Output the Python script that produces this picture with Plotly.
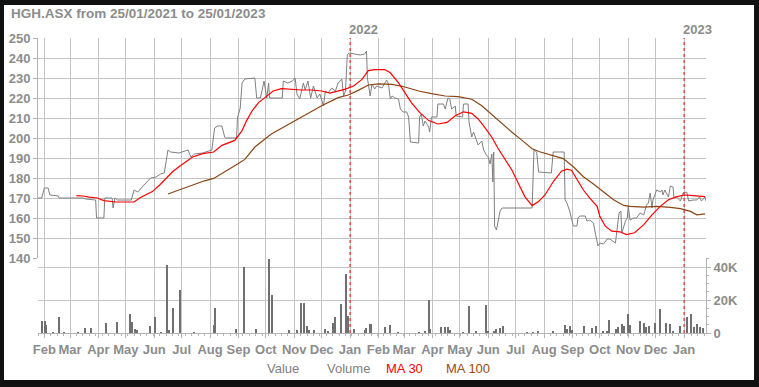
import plotly.graph_objects as go
import pandas as pd

# ---------------- data ----------------
price_dates = [
    "2021-01-25","2021-01-29","2021-02-01","2021-02-05","2021-02-07","2021-02-16","2021-02-17","2021-03-15",
    "2021-03-18","2021-03-29","2021-03-30","2021-04-07","2021-04-08","2021-04-16","2021-04-17","2021-04-19",
    "2021-04-22","2021-05-07","2021-05-10","2021-05-14","2021-05-18","2021-05-21","2021-05-25","2021-05-28",
    "2021-06-03","2021-06-08","2021-06-12","2021-06-14","2021-06-16","2021-06-19","2021-06-28","2021-07-08",
    "2021-07-11","2021-07-15","2021-07-24","2021-08-03","2021-08-06","2021-08-09","2021-08-14","2021-08-17",
    "2021-08-18","2021-08-30","2021-08-31","2021-09-03","2021-09-05","2021-09-08","2021-09-15","2021-09-19",
    "2021-09-21","2021-09-25","2021-09-27","2021-09-29","2021-10-02","2021-10-04","2021-10-05","2021-10-19",
    "2021-10-20","2021-10-25","2021-10-30","2021-11-02","2021-11-04","2021-11-07","2021-11-11","2021-11-13",
    "2021-11-16","2021-11-19","2021-11-22","2021-11-26","2021-11-29","2021-12-03","2021-12-05","2021-12-08",
    "2021-12-12","2021-12-16","2021-12-19","2021-12-23","2021-12-25","2021-12-27","2021-12-29","2021-12-31",
    "2022-01-12","2022-01-17","2022-01-19","2022-01-20","2022-01-23","2022-01-25","2022-01-28","2022-01-30",
    "2022-02-05","2022-02-10","2022-02-12","2022-02-14","2022-02-16","2022-02-19","2022-02-23","2022-02-25",
    "2022-02-28","2022-03-04","2022-03-06","2022-03-08","2022-03-17","2022-03-18","2022-03-20","2022-03-22",
    "2022-03-24","2022-03-28","2022-03-29","2022-03-31","2022-04-06","2022-04-07","2022-04-13","2022-04-15",
    "2022-04-18","2022-04-20","2022-04-22","2022-04-26","2022-04-27","2022-05-04","2022-05-05","2022-05-10",
    "2022-05-11","2022-05-14","2022-05-16","2022-05-19","2022-05-21","2022-05-25","2022-05-27","2022-05-30",
    "2022-06-01","2022-06-03","2022-06-05","2022-06-06","2022-06-07","2022-06-08","2022-06-10","2022-06-14",
    "2022-06-16","2022-07-19","2022-07-20","2022-07-21","2022-07-24","2022-07-26","2022-08-09","2022-08-11",
    "2022-08-23","2022-08-24","2022-08-26","2022-08-28","2022-08-29","2022-09-02","2022-09-06","2022-09-07",
    "2022-09-09","2022-09-15","2022-09-17","2022-09-20","2022-09-24","2022-09-26","2022-09-28","2022-09-29",
    "2022-10-01","2022-10-05","2022-10-09","2022-10-12","2022-10-18","2022-10-19","2022-10-20","2022-10-22",
    "2022-10-24","2022-10-25","2022-10-27","2022-10-29","2022-10-31","2022-11-01","2022-11-03","2022-11-07",
    "2022-11-10","2022-11-14","2022-11-18","2022-11-21","2022-11-23","2022-11-25","2022-11-27","2022-11-28",
    "2022-12-02","2022-12-06","2022-12-08","2022-12-09","2022-12-11","2022-12-15","2022-12-17","2022-12-20",
    "2022-12-21","2022-12-24","2022-12-28","2022-12-31","2023-01-04","2023-01-06","2023-01-11","2023-01-15",
    "2023-01-18","2023-01-20","2023-01-24","2023-01-25",
]
price_values = [
    170,170,175,175,171.5,171,170,170,
    169.5,169,160,160,170,170,165,170,
    169,169,174,173,175,176.5,178,180,
    180.5,182,182.5,189,194,193,192.5,194,
    190.5,192,192.5,194,205,206,206,200.5,
    200,200,210,215,227.5,229.5,230,230,
    220,220,224,228.5,220,227.5,220,220,
    228.5,227.5,228.5,230,222,219.5,227.5,224,
    228.5,220,226,220,222,216,223.5,222.5,
    225,223.5,227.5,229.5,221,223.5,241.5,242.5,
    241.5,242,243.5,230,221,227,224.5,226,
    225,229,227,219.5,221,220,219.5,214.5,
    213,213,210.5,198,197.5,210.5,212,206,
    208.5,205.5,203,210.5,210.5,217,217,214.5,
    220,219.5,214.5,216,211,210.5,217,217,
    208,200.5,203,199.5,196.5,198.5,194,191.5,
    190.5,187,192,178,193,156,154,163.5,
    165,165,179,194,193,183,182.5,193,
    193,169,167.5,165,163.5,156,156,160,
    161,161,158.5,159,157.5,152.5,147.5,146,
    147.5,147,149.5,149.5,147.5,152.5,155,162.5,
    163.5,152.5,156,158.5,160,166,159,160,
    160,162.5,161.5,166.5,167.5,172.5,165,169,
    174,173,174,171.5,174,170.5,176,175.5,
    170,170.5,168.5,172.5,173,168.5,169,169,
    170.5,168.5,170.5,168.5,
]

ma30_dates = [
    "2021-03-08","2021-03-15","2021-03-22","2021-03-31","2021-04-07","2021-04-20","2021-05-01","2021-05-10",
    "2021-05-16","2021-05-23","2021-05-30","2021-06-07","2021-06-14","2021-06-21","2021-06-28","2021-07-06",
    "2021-07-13","2021-07-24","2021-08-05","2021-08-14","2021-08-28","2021-09-05","2021-09-10","2021-09-16",
    "2021-09-23","2021-09-30","2021-10-09","2021-10-18","2021-10-29","2021-11-09","2021-11-20","2021-12-01",
    "2021-12-10","2021-12-17","2021-12-26","2022-01-05","2022-01-14","2022-01-21","2022-01-28","2022-02-08",
    "2022-02-14","2022-02-23","2022-03-02","2022-03-09","2022-03-18","2022-03-28","2022-04-07","2022-04-17",
    "2022-04-26","2022-05-05","2022-05-14","2022-05-21","2022-05-28","2022-06-05","2022-06-12","2022-06-19",
    "2022-06-27","2022-07-04","2022-07-11","2022-07-19","2022-07-26","2022-08-02","2022-08-11","2022-08-20",
    "2022-08-26","2022-08-31","2022-09-06","2022-09-13","2022-09-20","2022-09-28","2022-10-01","2022-10-07",
    "2022-10-14","2022-10-23","2022-10-30","2022-11-08","2022-11-18","2022-11-27","2022-12-06","2022-12-15",
    "2022-12-24","2023-01-02","2023-01-11","2023-01-24",
]
ma30_values = [
    171.2,171,170.4,170,168.7,168,168,168,
    170,171.5,173.2,176.5,179.8,183.1,185.6,188,
    190.5,192.2,193,196.3,198.8,203.7,208.7,213.6,
    217.7,220.2,223.5,224.7,224.3,224,224,223.5,
    222.4,223.2,224.3,226,229.3,233.7,234.2,234.2,
    232.6,227.6,222.7,217.7,212.8,208.7,207,207.8,
    211.1,213.1,212.3,209.5,205.4,200.4,194.6,189.7,
    183.9,177.3,170.7,166.2,168.2,171.5,178.1,183.4,
    184.4,183.9,179,174,169.9,165.8,160.8,155.9,
    153.4,153.1,151.7,152.6,156.7,161.6,165.8,169.1,
    170.7,171.5,171.2,170.7,
]

ma100_dates = [
    "2021-06-16","2021-07-06","2021-07-26","2021-08-05","2021-08-14","2021-08-26","2021-09-01","2021-09-08",
    "2021-09-19","2021-10-07","2021-10-26","2021-11-13","2021-12-01","2021-12-19","2021-12-30","2022-01-10",
    "2022-01-21","2022-02-01","2022-02-16","2022-03-02","2022-03-17","2022-03-31","2022-04-15","2022-04-29",
    "2022-05-14","2022-05-25","2022-06-05","2022-06-16","2022-06-27","2022-07-08","2022-07-19","2022-07-28",
    "2022-08-11","2022-08-22","2022-09-02","2022-09-13","2022-09-24","2022-10-05","2022-10-16","2022-10-27",
    "2022-11-03","2022-11-18","2022-12-02","2022-12-17","2022-12-28","2023-01-08","2023-01-15","2023-01-24",
]
ma100_values = [
    172,175.3,178.6,179.8,182.3,185.2,187.2,189.3,
    195.5,202,207,211.6,216.1,220.2,221.5,223.8,
    226.5,227.1,226.8,225.5,223.5,222.2,221,220.7,
    219.4,216.1,211.6,207,202.9,198.8,194.6,193,
    191.3,189.7,185.6,180.6,177,173.2,169.1,166.3,
    165.8,165.4,165.8,165.3,164.7,163.3,161.6,162.1,
]

volume_dates = [
    "2021-01-29","2021-02-02","2021-02-03","2021-02-11","2021-02-17","2021-02-23","2021-03-10","2021-03-17",
    "2021-03-24","2021-04-09","2021-04-21","2021-05-06","2021-05-08","2021-05-11","2021-05-13","2021-05-27",
    "2021-05-28","2021-06-02","2021-06-08","2021-06-15","2021-06-17","2021-06-22","2021-06-29","2021-07-15",
    "2021-08-05","2021-08-06","2021-08-30","2021-09-07","2021-09-20","2021-10-05","2021-10-08","2021-10-26",
    "2021-11-04","2021-11-09","2021-11-12","2021-11-15","2021-11-17","2021-11-23","2021-12-05","2021-12-08",
    "2021-12-13","2021-12-16","2021-12-22","2021-12-28","2021-12-30","2022-01-05","2022-01-17","2022-01-18",
    "2022-01-23","2022-01-24","2022-02-08","2022-02-14","2022-02-22","2022-03-17","2022-03-24","2022-03-28",
    "2022-03-29","2022-04-11","2022-04-15","2022-04-18","2022-04-20","2022-05-05","2022-05-11","2022-05-19",
    "2022-05-30","2022-06-01","2022-06-07","2022-06-10","2022-06-14","2022-06-17","2022-07-13","2022-07-20",
    "2022-07-26","2022-08-11","2022-08-24","2022-08-26","2022-08-29","2022-09-01","2022-09-14","2022-09-22",
    "2022-09-27","2022-10-05","2022-10-09","2022-10-11","2022-10-19","2022-10-21","2022-10-25","2022-10-27",
    "2022-10-28","2022-11-01","2022-11-03","2022-11-14","2022-11-18","2022-11-21","2022-11-24","2022-11-30",
    "2022-12-06","2022-12-12","2022-12-17","2022-12-20","2022-12-28","2023-01-04","2023-01-09","2023-01-12",
    "2023-01-15","2023-01-19","2023-01-22",
]
volume_values = [
    7300,7300,4900,500,9800,400,300,2900,
    2900,5900,6500,11800,6500,2400,1800,2900,
    4500,9800,400,41000,1800,15100,26300,300,
    4900,15100,2400,40000,2400,44700,22800,1800,
    1800,18000,18000,4300,1800,1800,2400,1200,
    5900,9600,17700,36000,10400,2400,1800,2900,
    5500,5500,3500,4900,300,300,800,20200,
    2400,3500,3500,3500,1800,300,16500,800,
    17100,1400,1400,2400,2900,4500,300,300,
    1200,1200,4900,2400,4500,1800,4300,2900,
    4300,800,1200,8000,2400,3500,5500,4300,
    4300,11600,4900,7300,5900,3500,4300,5900,
    14700,6300,5500,1400,4500,9600,11600,3900,
    5500,3500,2900,
]

month_labels = ["Feb","Mar","Apr","May","Jun","Jul","Aug","Sep","Oct","Nov","Dec","Jan",
                "Feb","Mar","Apr","May","Jun","Jul","Aug","Sep","Oct","Nov","Dec","Jan"]
price_ticks = [140,150,160,170,180,190,200,210,220,230,240,250]
volume_ticks = [0, 20000, 40000]
volume_tick_labels = ["0", "20K", "40K"]
year_labels = ["2022", "2023"]
year_dates = ["2022-01-01", "2023-01-01"]
title_text = "HGH.ASX from 25/01/2021 to 25/01/2023"
legend_items = ["Value", "Volume", "MA 30", "MA 100"]

# ---------------- styles ----------------
GRAY_TXT = "#8c8c8c"
GRID = "#c4c4c4"
AXIS = "#b4b4b4"
BOLD = "Liberation Sans, Arial, sans-serif"
month_starts = pd.date_range("2021-02-01", "2023-01-01", freq="MS")

fig = go.Figure()
fig.add_trace(go.Bar(x=volume_dates, y=volume_values, xaxis="x", yaxis="y2",
                     width=1.3 * 86400000, marker=dict(color="#707070", line=dict(width=0)),
                     showlegend=False, hoverinfo="skip"))
fig.add_trace(go.Scatter(x=price_dates, y=price_values, mode="lines", yaxis="y",
                         line=dict(color="#808080", width=1), showlegend=False))
fig.add_trace(go.Scatter(x=ma100_dates, y=ma100_values, mode="lines", yaxis="y",
                         line=dict(color="#8b4513", width=1.2), showlegend=False))
fig.add_trace(go.Scatter(x=ma30_dates, y=ma30_values, mode="lines", yaxis="y",
                         line=dict(color="#ff0000", width=1.2), showlegend=False))
# invisible helper trace so the grid overlay axis renders
fig.add_trace(go.Scatter(x=[price_dates[0]], y=[price_values[0]], yaxis="y3", mode="markers",
                         marker=dict(opacity=0), showlegend=False, hoverinfo="skip"))

tickfont = dict(family=BOLD, size=13, color=GRAY_TXT, weight="bold")
split = 75 / 295

fig.update_layout(
    width=759, height=387, autosize=False,
    margin=dict(l=38, r=53, t=38, b=54, pad=0),
    paper_bgcolor="#111111", plot_bgcolor="white",
    showlegend=False, bargap=0,
    xaxis=dict(anchor="y2", range=["2021-01-25", "2023-01-25"], type="date", automargin=False,
               tickvals=month_starts, ticktext=month_labels, tickangle=0,
               showgrid=True, gridcolor=GRID, gridwidth=1,
               ticks="outside", ticklen=4, tickcolor=AXIS,
               showline=True, linecolor=AXIS, linewidth=1,
               tickfont=tickfont, zeroline=False,
               minor=dict(ticks="outside", ticklen=2, tickcolor=AXIS,
                          dtick=7 * 86400000, tick0="2021-01-25", showgrid=False)),
    yaxis=dict(domain=[split, 1], range=[140, 250], anchor="x", side="left", automargin=False,
               tickvals=price_ticks, showgrid=False, zeroline=False,
               ticks="outside", ticklen=4, tickcolor=AXIS,
               showline=True, linecolor=AXIS, linewidth=1, tickfont=tickfont),
    yaxis3=dict(overlaying="y", range=[140, 250], anchor="x", side="left", automargin=False,
                tickvals=price_ticks[1:], showgrid=True, gridcolor=GRID, gridwidth=1,
                showticklabels=False, ticks="", zeroline=False, showline=False),
    yaxis2=dict(domain=[0, split], range=[0, 45455], anchor="x", side="right", automargin=False,
                tickvals=volume_ticks, ticktext=volume_tick_labels,
                showgrid=True, gridcolor=GRID, gridwidth=1, zeroline=False,
                ticks="outside", ticklen=4, tickcolor=AXIS,
                showline=True, linecolor=AXIS, linewidth=1, tickfont=tickfont,
                minor=dict(ticks="outside", ticklen=2, tickcolor=AXIS, dtick=5000, showgrid=False)),
)

# frame panel (white card on dark background)
fig.add_shape(type="rect", xref="paper", yref="paper",
              x0=-0.0509, x1=1.0719, y0=-0.1593, y1=1.1119,
              fillcolor="white", line=dict(width=0), layer="below")

# year separators
for yd, yl in zip(year_dates, year_labels):
    fig.add_shape(type="line", xref="x", yref="paper", x0=yd, x1=yd, y0=0, y1=1,
                  line=dict(color="#ff0000", width=1, dash="dot"))
    fig.add_annotation(x=yd, y=1, xref="x", yref="paper", text=yl, showarrow=False,
                       xanchor="left", yanchor="bottom", xshift=-3, yshift=-1,
                       font=dict(family=BOLD, size=13, color=GRAY_TXT, weight="bold"))

# title
fig.add_annotation(x=-0.0434, y=1.0814, xref="paper", yref="paper", text=title_text,
                   showarrow=False, xanchor="left", yanchor="middle",
                   font=dict(family=BOLD, size=13.5, color=GRAY_TXT, weight="bold"))

# legend texts
legend_colors = ["#808080", "#808080", "#ff0000", "#994c14"]
legend_x = [0.3398, 0.4296, 0.518, 0.6078]
for name, col, lx in zip(legend_items, legend_colors, legend_x):
    fig.add_annotation(x=lx, y=-0.122, xref="paper", yref="paper", text=name,
                       showarrow=False, xanchor="left", yanchor="middle",
                       font=dict(family="Liberation Sans, Arial, sans-serif", size=13, color=col))

fig.write_html("out.html", config={"displayModeBar": False},
               post_script="document.body.style.margin='0';document.body.style.background='#111111';")
